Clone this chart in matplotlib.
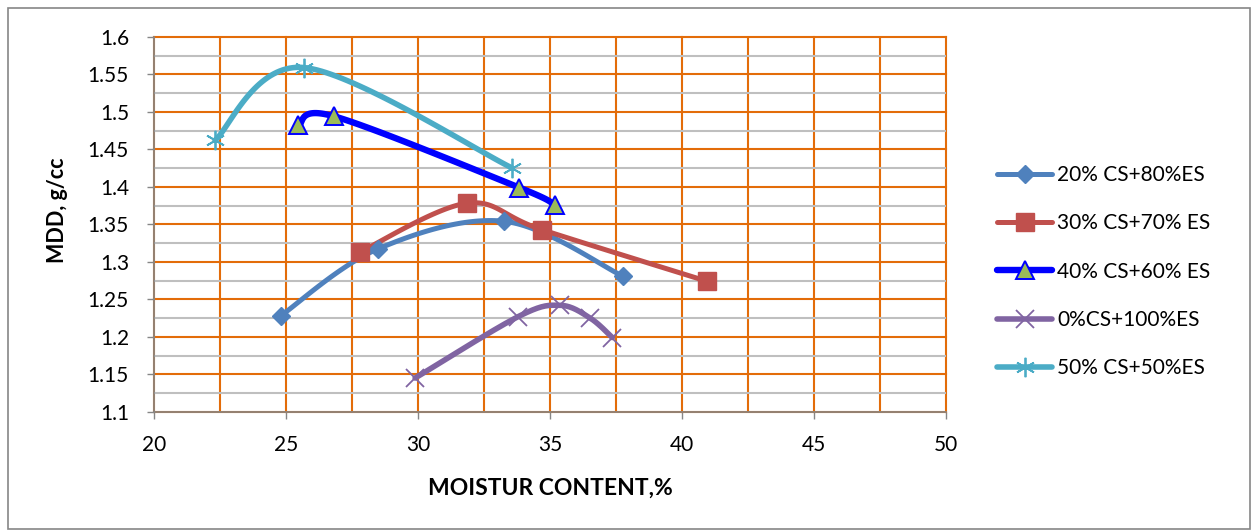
import numpy as np
import matplotlib
matplotlib.use("Agg")
import matplotlib.pyplot as plt
from matplotlib.ticker import FixedLocator, FuncFormatter
from matplotlib.lines import Line2D
from matplotlib.patches import Rectangle

plt.rcParams['font.family'] = ['Lato', 'DejaVu Sans']

# Compaction test results: moisture content (%) vs maximum dry density (g/cc)
mc_20cs = [24.8, 28.47, 33.27, 37.75]
mdd_20cs = [1.228, 1.317, 1.354, 1.281]

mc_30cs = [27.8, 31.84, 34.68, 40.95]
mdd_30cs = [1.313, 1.378, 1.343, 1.274]

mc_40cs = [25.47, 26.82, 33.83, 35.18]
mdd_40cs = [1.482, 1.494, 1.399, 1.376]

mc_0cs = [29.89, 33.8, 35.38, 36.52, 37.36]
mdd_0cs = [1.145, 1.227, 1.242, 1.225, 1.199]

mc_50cs = [22.31, 25.68, 33.57]
mdd_50cs = [1.462, 1.559, 1.425]

labels = ["20% CS+80%ES", "30% CS+70% ES", "40% CS+60% ES",
          "0%CS+100%ES", "50% CS+50%ES"]

x_ticks = [20, 25, 30, 35, 40, 45, 50]
x_minor = [22.5, 27.5, 32.5, 37.5, 42.5, 47.5]
y_ticks = [1.1, 1.15, 1.2, 1.25, 1.3, 1.35, 1.4, 1.45, 1.5, 1.55, 1.6]
y_minor = [1.125, 1.175, 1.225, 1.275, 1.325, 1.375, 1.425, 1.475,
           1.525, 1.575]


def smooth(xs, ys, n=40):
    """Bezier smoothing through every point (spreadsheet-style smoothed line)."""
    p = np.column_stack([xs, ys]).astype(float)
    ext = np.vstack([p[0], p, p[-1]])
    out = []
    t = np.linspace(0, 1, n)[:, None]
    for i in range(len(p) - 1):
        p0, p1 = ext[i + 1], ext[i + 2]
        c1 = p0 + (ext[i + 2] - ext[i]) / 6.0
        c2 = p1 - (ext[i + 3] - ext[i + 1]) / 6.0
        seg = ((1 - t) ** 3) * p0 + 3 * ((1 - t) ** 2) * t * c1 \
            + 3 * (1 - t) * t ** 2 * c2 + t ** 3 * p1
        out.append(seg if i == 0 else seg[1:])
    seg = np.vstack(out)
    return seg[:, 0], seg[:, 1]


W, H = 1253, 531
fig = plt.figure(figsize=(W / 100, H / 100), dpi=100)
ax = fig.add_axes([154 / W, 1 - 411.8 / H, 792 / W, 375 / H])

orange = '#E36C09'
gray_axis = '#868686'

ax.set_xlim(20, 50)
ax.set_ylim(1.1, 1.6)
ax.set_xticks(x_ticks)
ax.set_yticks(y_ticks)
ax.xaxis.set_minor_locator(FixedLocator(x_minor))
ax.yaxis.set_minor_locator(FixedLocator(y_minor))
ax.yaxis.set_major_formatter(FuncFormatter(lambda v, _: f"{v:g}"))

ax.grid(which='minor', axis='y', color='#BFBFBF', lw=1.5)
ax.grid(which='major', axis='both', color=orange, lw=1.5)
ax.grid(which='minor', axis='x', color=orange, lw=1.5)
ax.set_axisbelow(True)
for gl in ax.get_xgridlines() + ax.get_ygridlines():
    gl.set_clip_on(False)

for s in ['top', 'right']:
    ax.spines[s].set_visible(False)
for s in ['left', 'bottom']:
    ax.spines[s].set_color(gray_axis)
    ax.spines[s].set_linewidth(1.2)
    ax.spines[s].set_zorder(1.5)

ax.tick_params(which='major', axis='both', direction='out', length=5,
               width=1, color=gray_axis, labelsize=15, labelcolor='black')
ax.tick_params(which='major', axis='y', pad=13)
ax.tick_params(which='major', axis='x', pad=12)
ax.tick_params(which='minor', length=0)

series = [
    (mc_20cs, mdd_20cs, dict(color='#4F81BD', lw=3.6),
     dict(marker='D', ms=9.5, mfc='#4F81BD', mec='#4F81BD', mew=1)),
    (mc_30cs, mdd_30cs, dict(color='#C0504D', lw=3.6),
     dict(marker='s', ms=13.5, mfc='#C0504D', mec='#C0504D', mew=1)),
    (mc_40cs, mdd_40cs, dict(color='#0000FF', lw=4.6),
     dict(marker='^', ms=13, mfc='#9BBB59', mec='#0000FF', mew=1.4)),
    (mc_0cs, mdd_0cs, dict(color='#8064A2', lw=4.0),
     dict(marker='x', ms=13, mfc='none', mec='#8064A2', mew=1.3)),
    (mc_50cs, mdd_50cs, dict(color='#4BACC6', lw=4.0),
     dict(marker=(6, 2, 0), ms=14, mfc='none', mec='#4BACC6', mew=1.3)),
]

# curves first, then the markers on top of all curves
for xs, ys, lkw, mkw in series:
    sx, sy = smooth(xs, ys)
    ax.plot(sx, sy, solid_capstyle='round', zorder=2, **lkw)
for xs, ys, lkw, mkw in series:
    ax.plot(xs, ys, ls='none', zorder=3, clip_on=False, **mkw)

handles = [Line2D([0], [0], solid_capstyle='round', **lkw, **mkw)
           for _, _, lkw, mkw in series]
fig.legend(handles, labels, loc='center left',
           bbox_to_anchor=(997 / W, 1 - 271.5 / H), frameon=False,
           fontsize=15, handlelength=2.64, handletextpad=0.25,
           labelspacing=1.36, borderpad=0, borderaxespad=0, numpoints=1)

fig.text(57 / W, 1 - 210 / H, 'MDD, g/cc', rotation=90, fontsize=15.5,
         fontweight='bold', ha='center', va='center')
fig.text(550 / W, 1 - 488 / H, 'MOISTUR CONTENT,%', fontsize=16.5,
         fontweight='bold', ha='center', va='center')

fig.patches.append(Rectangle((8 / W, 2 / H), 1242 / W, 521 / H,
                             transform=fig.transFigure, fill=False,
                             edgecolor=gray_axis, lw=1.2))

fig.savefig('out.png', dpi=100)
